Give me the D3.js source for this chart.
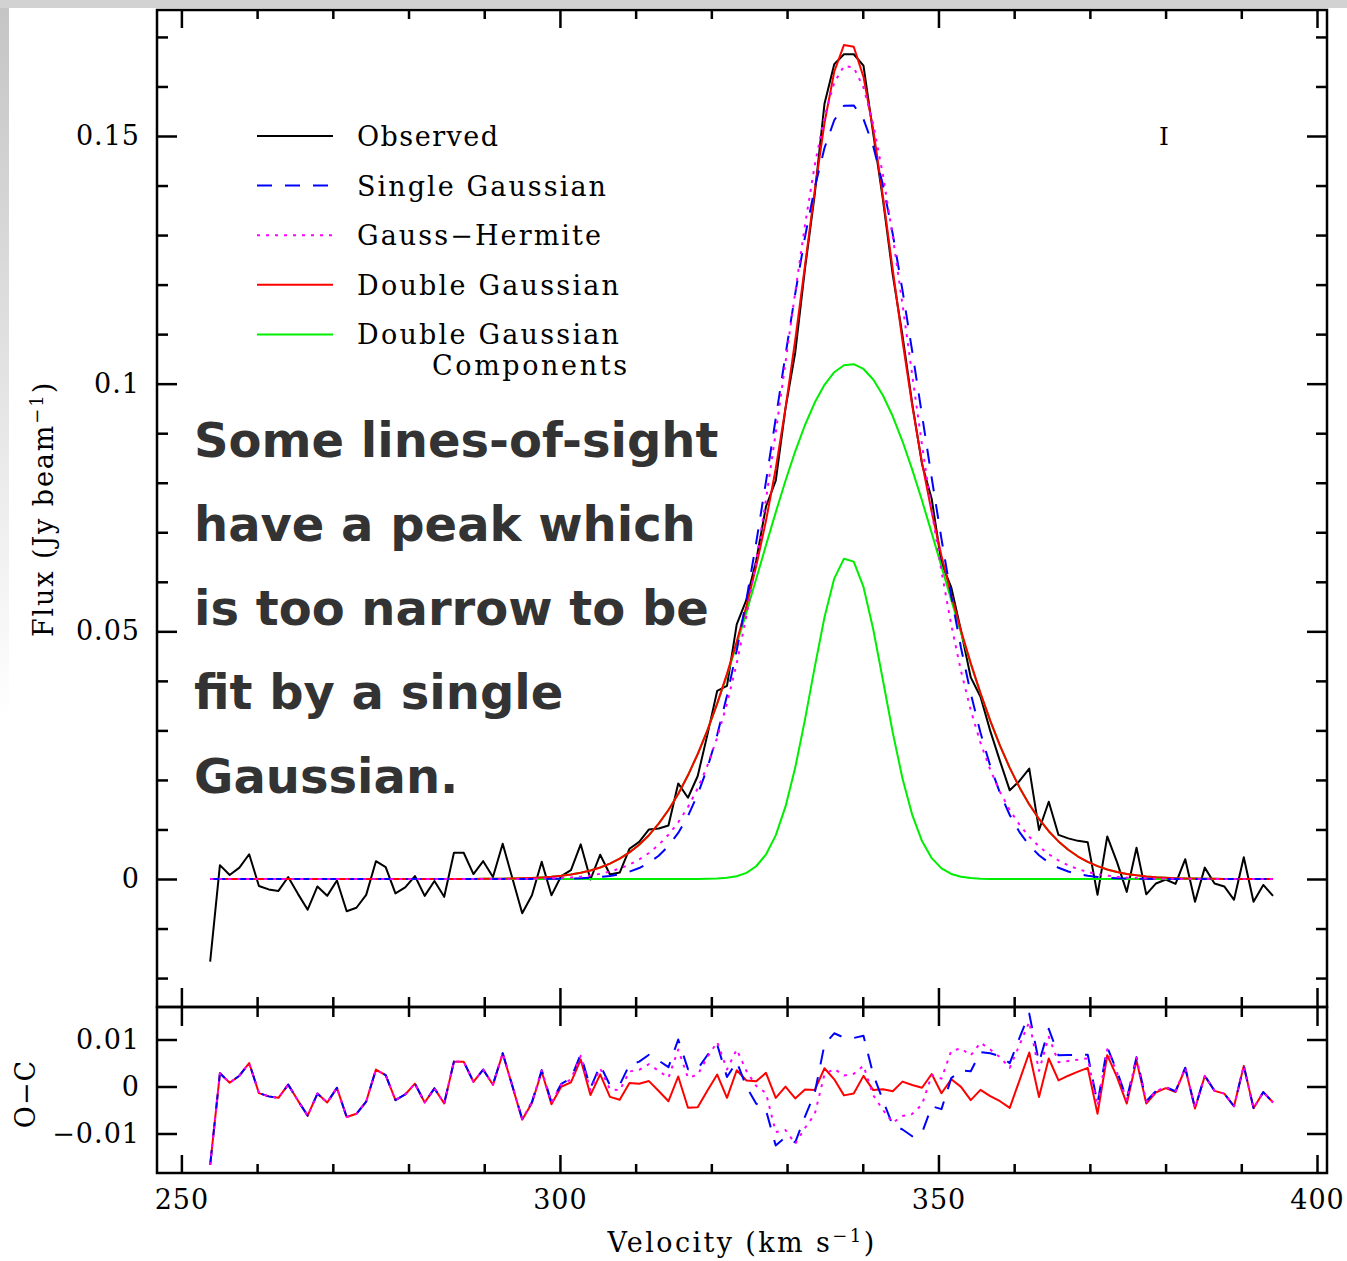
<!DOCTYPE html>
<html>
<head>
<meta charset="utf-8">
<script src="https://cdn.jsdelivr.net/npm/d3@7"></script>
<style>
  body { margin: 0; background: #fff; }
  svg text { font-family: "DejaVu Serif", serif; fill: #000; }
</style>
</head>
<body>
<div id="chart"></div>
<script>

// spectral axis of the cube: first channel and channel width (km/s)
var channelStart = 253.8;
var channelWidth = 1.288;

// observed flux per channel (Jy/beam)
var observed = [
  -0.0167, 0.0028, 0.0008, 0.0023, 0.0050, -0.0014, -0.0021, -0.0024, 0.0004, -0.0030,
  -0.0062, -0.0015, -0.0034, -0.0003, -0.0065, -0.0058, -0.0032, 0.0036, 0.0024, -0.0029,
  -0.0017, 0.0006, -0.0034, -0.0004, -0.0036, 0.0053, 0.0053, 0.0010, 0.0036, 0.0004,
  0.0071, 0.0001, -0.0069, -0.0033, 0.0035, -0.0033, 0.0006, 0.0018, 0.0070, -0.0001,
  0.0049, 0.0009, 0.0013, 0.0061, 0.0075, 0.0100, 0.0102, 0.0108, 0.0193, 0.0164,
  0.0208, 0.0292, 0.0380, 0.0390, 0.0514, 0.0564, 0.0643, 0.0752, 0.0804, 0.0950,
  0.1063, 0.1232, 0.1382, 0.1565, 0.1645, 0.1665, 0.1665, 0.1642, 0.1505, 0.1371,
  0.1220, 0.1097, 0.0959, 0.0838, 0.0767, 0.0638, 0.0589, 0.0501, 0.0407, 0.0368,
  0.0299, 0.0238, 0.0179, 0.0198, 0.0223, 0.0099, 0.0156, 0.0089, 0.0082, 0.0077,
  0.0074, -0.0032, 0.0086, 0.0034, -0.0026, 0.0063, -0.0031, -0.0009, -0.0001, -0.0010,
  0.0040, -0.0046, 0.0023, -0.0009, -0.0015, -0.0042, 0.0044, -0.0046, -0.0012, -0.0034
];

// fitted models, parameters: [amplitude, centre, dispersion]
var singleFit  = [0.1565, 338.2, 9.5];
var hermiteFit = [0.1615, 338.05, 9.1, 0.0, 0.03];   // + h3, h4
var narrowFit  = [0.065, 338.0, 4.75];
var broadFit   = [0.104, 338.4, 12.0];

var legendNames = ["Observed", "Single Gaussian", "Gauss\u2212Hermite", "Double Gaussian", "Double Gaussian"];
var legendWidths = [141, 249, 244, 262, 262];
var velTicks  = [250, 300, 350, 400];
var fluxTicks = [0, 0.05, 0.1, 0.15];
var ocTicks   = [-0.01, 0, 0.01];
var noteLines = ["Some lines-of-sight", "have a peak which", "is too narrow to be", "fit by a single", "Gaussian."];

var W = 1347, H = 1261;
var frame = {left: 157, right: 1327, top: 10, mid: 1007, bottom: 1173};

var x = d3.scaleLinear().domain([250, 400]).range([181.4, 1317]);
var yTop = d3.scaleLinear().domain([0, 0.15]).range([879, 136]);
var yRes = d3.scaleLinear().domain([-0.01, 0.01]).range([1133.5, 1039.5]);

function gauss(p, v){
    var w = (v - p[1]) / p[2];
    return p[0] * Math.exp(-w*w/2);
}
function gaussHermite(p, v){
    var w = (v - p[1]) / p[2];
    var h3 = (2*Math.SQRT2*w*w*w - 3*Math.SQRT2*w) / Math.sqrt(6);
    var h4 = (4*w*w*w*w - 12*w*w + 3) / Math.sqrt(24);
    return p[0] * Math.exp(-w*w/2) * (1 + p[3]*h3 + p[4]*h4);
}

var rows = observed.map(function(f, i){
    var v = channelStart + i*channelWidth;
    var r = {v: v, obs: f,
        single: gauss(singleFit, v),
        gh: gaussHermite(hermiteFit, v),
        narrow: gauss(narrowFit, v),
        broad: gauss(broadFit, v)};
    r.dbl = r.narrow + r.broad;
    r.rSingle = f - r.single;
    r.rGh = f - r.gh;
    r.rDbl = f - r.dbl;
    return r;
});

var svg = d3.select("#chart").append("svg")
    .attr("width", W).attr("height", H);

// slide background showing at the edges
var grad = svg.append("defs").append("linearGradient")
    .attr("id", "edge").attr("x1", 0).attr("y1", 0).attr("x2", 0).attr("y2", 1);
grad.append("stop").attr("offset", 0).attr("stop-color", "#c4c4c4");
grad.append("stop").attr("offset", 1).attr("stop-color", "#ffffff");
svg.append("rect").attr("width", W).attr("height", H).attr("fill", "#fff");
svg.append("rect").attr("x", 0).attr("y", 0).attr("width", 9).attr("height", 720).attr("fill", "url(#edge)");
svg.append("rect").attr("x", 0).attr("y", 0).attr("width", W).attr("height", 8).attr("fill", "#d2d2d2");

// ---- curves, top panel
function curve(yScale, key){
    return d3.line().x(function(d){ return x(d.v); }).y(function(d){ return yScale(d[key]); });
}
var series = [
    {key: "obs",    color: "#000000", dash: null},
    {key: "narrow", color: "#00ee00", dash: null},
    {key: "broad",  color: "#00ee00", dash: null},
    {key: "dbl",    color: "#ff0000", dash: null},
    {key: "single", color: "#0000ff", dash: "15,13"},
    {key: "gh",     color: "#ff00ff", dash: "3,6"}
];
var gTop = svg.append("g");
series.forEach(function(s){
    gTop.append("path").datum(rows)
        .attr("d", curve(yTop, s.key))
        .attr("fill", "none")
        .attr("stroke", s.color)
        .attr("stroke-width", 2)
        .attr("stroke-linejoin", "round")
        .attr("stroke-dasharray", s.dash);
});

// ---- residuals, bottom panel
var resSeries = [
    {key: "rDbl",    color: "#ff0000", dash: null},
    {key: "rSingle", color: "#0000ff", dash: "15,13"},
    {key: "rGh",     color: "#ff00ff", dash: "3,6"}
];
var gRes = svg.append("g");
resSeries.forEach(function(s){
    gRes.append("path").datum(rows)
        .attr("d", curve(yRes, s.key))
        .attr("fill", "none")
        .attr("stroke", s.color)
        .attr("stroke-width", 2)
        .attr("stroke-linejoin", "round")
        .attr("stroke-dasharray", s.dash);
});

// ---- frames and ticks
svg.append("rect").attr("x", frame.left).attr("y", frame.top)
    .attr("width", frame.right-frame.left).attr("height", frame.mid-frame.top)
    .attr("fill", "none").attr("stroke", "#000").attr("stroke-width", 2.5);
svg.append("rect").attr("x", frame.left).attr("y", frame.mid)
    .attr("width", frame.right-frame.left).attr("height", frame.bottom-frame.mid)
    .attr("fill", "none").attr("stroke", "#000").attr("stroke-width", 2.5);

var velMinor = d3.range(250, 401, 10).filter(function(d){ return d % 50 != 0; });
var fluxMinor = d3.range(-2, 18).map(function(k){ return k/100; })
    .filter(function(d){ return Math.round(d*100) % 5 != 0; });

function tickSet(axisFn, scale, values, size, tx, ty){
    svg.append("g")
        .attr("transform", "translate(" + tx + "," + ty + ")")
        .call(axisFn(scale).tickValues(values).tickSize(-size).tickFormat(""))
        .call(function(g){ g.select(".domain").remove(); })
        .selectAll("line").attr("stroke", "#000").attr("stroke-width", 2.5);
}
[frame.top, frame.mid + 1].forEach(function(yy){
    tickSet(d3.axisTop, x, velTicks, 18, 0, yy);
    tickSet(d3.axisTop, x, velMinor, 9, 0, yy);
});
[frame.mid - 1, frame.bottom].forEach(function(yy){
    tickSet(d3.axisBottom, x, velTicks, 18, 0, yy);
    tickSet(d3.axisBottom, x, velMinor, 9, 0, yy);
});
tickSet(d3.axisLeft, yTop, fluxTicks, 20, frame.left, 0);
tickSet(d3.axisLeft, yTop, fluxMinor, 11, frame.left, 0);
tickSet(d3.axisRight, yTop, fluxTicks, 20, frame.right, 0);
tickSet(d3.axisRight, yTop, fluxMinor, 11, frame.right, 0);
tickSet(d3.axisLeft, yRes, ocTicks, 20, frame.left, 0);
tickSet(d3.axisRight, yRes, ocTicks, 20, frame.right, 0);

// ---- tick labels
var fmt = d3.format("~g");
function labels(axisFn, scale, values, pad, tx, ty){
    svg.append("g")
        .attr("transform", "translate(" + tx + "," + ty + ")")
        .call(axisFn(scale).tickValues(values).tickSize(0).tickPadding(pad).tickFormat(fmt))
        .call(function(g){ g.select(".domain").remove(); })
        .selectAll("text")
        .attr("font-family", "DejaVu Serif")
        .attr("font-size", 27)
        .attr("letter-spacing", 1);
}
labels(d3.axisLeft, yTop, fluxTicks, 17, frame.left, 0);
labels(d3.axisLeft, yRes, ocTicks, 17, frame.left, 0);
labels(d3.axisBottom, x, velTicks, 17, 0, frame.bottom);

// ---- axis titles
var xt = svg.append("text")
    .attr("x", 742).attr("y", 1252)
    .attr("text-anchor", "middle")
    .attr("font-size", 27).attr("letter-spacing", 2.4);
xt.append("tspan").text("Velocity (km s");
xt.append("tspan").attr("font-size", 18).attr("dy", -10).text("\u22121");
xt.append("tspan").attr("dy", 10).text(")");

var yt = svg.append("text")
    .attr("transform", "translate(53,509) rotate(-90)")
    .attr("text-anchor", "middle")
    .attr("font-size", 27).attr("letter-spacing", 1.9);
yt.append("tspan").text("Flux (Jy beam");
yt.append("tspan").attr("font-size", 18).attr("dy", -10).text("\u22121");
yt.append("tspan").attr("dy", 10).text(")");

svg.append("text")
    .attr("transform", "translate(35,1094) rotate(-90)")
    .attr("text-anchor", "middle")
    .attr("font-size", 27).attr("letter-spacing", 1)
    .text("O\u2212C");

// ---- legend
var legendStyle = [series[0], series[4], series[5], series[3], series[1]];
legendNames.forEach(function(name, i){
    var yy = 136 + i*49.6;
    svg.append("line")
        .attr("x1", 257).attr("x2", 333).attr("y1", yy).attr("y2", yy)
        .attr("stroke", legendStyle[i].color).attr("stroke-width", 2)
        .attr("stroke-dasharray", legendStyle[i].dash);
    svg.append("text")
        .attr("x", 357).attr("y", yy + 10)
        .attr("font-size", 27)
        .attr("textLength", legendWidths[i]).attr("lengthAdjust", "spacing")
        .text(name);
});
svg.append("text")
    .attr("x", 432).attr("y", 375)
    .attr("font-size", 27)
    .attr("textLength", 195).attr("lengthAdjust", "spacing")
    .text("Components");

// noise marker
svg.append("text")
    .attr("x", 1164).attr("y", 145)
    .attr("text-anchor", "middle")
    .attr("font-size", 25)
    .text("I");

// ---- annotation
noteLines.forEach(function(line, i){
    svg.append("text")
        .attr("x", 194).attr("y", 457 + i*84)
        .attr("font-weight", "bold")
        .attr("font-size", 48)
        .style("font-family", "'DejaVu Sans', sans-serif")
        .style("fill", "#333333")
        .text(line);
});

</script>
</body>
</html>
